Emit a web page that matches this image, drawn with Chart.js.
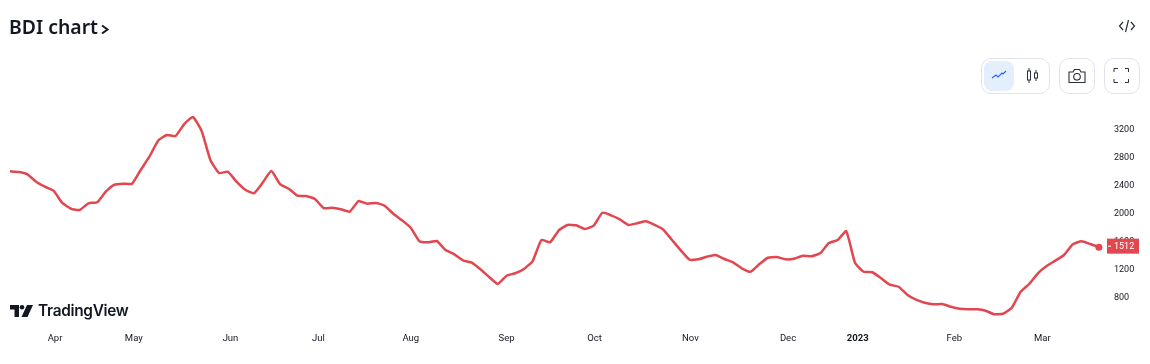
<!DOCTYPE html>
<html>
<head>
<meta charset="utf-8">
<title>BDI chart</title>
<script src="https://cdn.jsdelivr.net/npm/chart.js@4"></script>
<style>
  html, body { margin: 0; padding: 0; background: #fff; }
  #wrap { position: relative; width: 1150px; height: 364px; overflow: hidden; }
  #bdi { position: absolute; left: 0; top: 0; }
  .title { position: absolute; left: 9px; top: 13px; font: 600 19.4px "Noto Sans", sans-serif; color: #131722; line-height: 28px; }
  .brand { position: absolute; left: 38px; top: 300px; font: 600 15.4px Inter, sans-serif; color: #131722; line-height: 21px; letter-spacing: -0.3px; }
  .box { position: absolute; top: 58px; height: 34px; border: 1px solid #e0e3eb; border-radius: 10px; }
  .active { position: absolute; left: 984px; top: 61px; width: 30px; height: 30px; background: #e3effd; border-radius: 8px; }
  svg { position: absolute; }
</style>
</head>
<body>
<div id="wrap">
  <canvas id="bdi" width="1150" height="364"></canvas>

  <div class="title">BDI chart</div>
  <svg style="left:100px;top:23px" width="10" height="12" viewBox="0 0 10 12"><path d="M2 2.5 L7.5 6.5 L2 10.5" fill="none" stroke="#131722" stroke-width="2"/></svg>
  <svg style="left:1118px;top:18px" width="18" height="16" viewBox="0 0 18 16" fill="none" stroke="#2a2e39" stroke-width="1.2"><path d="M5 4 L1.5 8 L5 12 M13 4 L16.5 8 L13 12 M10.5 2 L7.5 14"/></svg>

  <div class="box" style="left:981px;width:67px"></div>
  <div class="active"></div>
  <svg style="left:991px;top:69px" width="16" height="11" viewBox="0 0 16 11" fill="none" stroke="#2962ff" stroke-width="1.1"><path d="M1 9 L5 6 L7 8 L11 4 L12 5 L15 2"/></svg>
  <svg style="left:1026px;top:67px" width="13" height="17" viewBox="0 0 13 17" fill="none" stroke="#2a2e39" stroke-width="1"><rect x="1.5" y="4" width="3" height="9"/><path d="M3 1 V4 M3 13 V16"/><rect x="8.5" y="6" width="3" height="5"/><path d="M10 3 V6 M10 11 V14"/></svg>

  <div class="box" style="left:1059px;width:34px"></div>
  <svg style="left:1068px;top:68px" width="18" height="16" viewBox="0 0 18 16" fill="none" stroke="#2a2e39" stroke-width="1.1"><path d="M1 4 H5 L6.5 1.5 H11.5 L13 4 H17 V14.5 H1 Z"/><circle cx="9" cy="8.8" r="3.3"/></svg>

  <div class="box" style="left:1104px;width:34px"></div>
  <svg style="left:1113px;top:67px" width="17" height="17" viewBox="0 0 17 17" fill="none" stroke="#2a2e39" stroke-width="1"><path d="M1 5 V1.5 H5 M12 1.5 H15.5 V5 M15.5 12 V15.5 H12 M5 15.5 H1 V12"/></svg>

  <svg style="left:10px;top:305px" width="23" height="12" viewBox="0 0 23 12" fill="#131722"><path d="M0 0 H9 V12 H4.5 V4.5 H0 Z"/><circle cx="12" cy="2.3" r="2.3"/><path d="M17 0 H23 L17.5 12 H11.5 Z"/></svg>
  <div class="brand">TradingView</div>
</div>

<script>
// Baltic Dry readings, one sample every two sessions, Mar 2022 - Mar 2023
const bdi = [
  2596, 2586, 2553, 2447, 2376, 2319, 2143, 2061, 2043, 2139, 2153, 2304, 2404, 2419, 2419, 2614,
  2804, 3033, 3114, 3100, 3271, 3371, 3171, 2757, 2571, 2590, 2447, 2333, 2281, 2433, 2600, 2414,
  2347, 2247, 2243, 2200, 2071, 2076, 2053, 2019, 2171, 2133, 2143, 2104, 1990, 1896, 1790, 1596,
  1581, 1600, 1471, 1410, 1324, 1290, 1196, 1086, 986, 1104, 1139, 1200, 1314, 1614, 1581, 1753,
  1829, 1824, 1771, 1819, 2004, 1967, 1910, 1829, 1853, 1881, 1829, 1761, 1614, 1467, 1333, 1339,
  1376, 1400, 1343, 1296, 1210, 1161, 1267, 1361, 1371, 1339, 1347, 1390, 1381, 1424, 1571, 1614,
  1740, 1290, 1161, 1153, 1067, 976, 947, 833, 761, 719, 696, 700, 661, 633, 624, 624,
  604, 553, 561, 647, 871, 986, 1139, 1243, 1319, 1400, 1553, 1596, 1557, 1512
]

const monthLabels = ['Apr', 'May', 'Jun', 'Jul', 'Aug', 'Sep', 'Oct', 'Nov', 'Dec', '2023', 'Feb', 'Mar']
// sample number each month label sits on
const monthAt = [5.17, 14.21, 25.31, 35.41, 46.01, 57.01, 67.11, 78.11, 89.31, 97.31, 108.41, 118.51]
const priceTicks = [800, 1200, 1600, 2000, 2400, 2800, 3200]

const lineColor = '#e2474f'
const lastValue = bdi[bdi.length - 1]

const lastPriceTag = {
    id: 'lastPriceTag',
    afterDraw(chart) {
        const ctx = chart.ctx
        const y = chart.scales.y.getPixelForValue(lastValue) - 1
        ctx.save()
        ctx.fillStyle = lineColor
        ctx.fillRect(1107, y - 7.5, 32, 15)
        ctx.fillStyle = '#fff'
        ctx.fillRect(1108, y - 0.5, 3, 1)
        ctx.font = '9px Roboto, sans-serif'
        ctx.textBaseline = 'middle'
        ctx.textAlign = 'left'
        ctx.fillText(String(lastValue), 1114, y + 0.5)
        ctx.restore()
    }
}

new Chart(document.getElementById('bdi'), {
    type: 'line',
    data: {
        datasets: [{
            label: 'BDI',
            data: bdi.map((v, i) => ({ x: i, y: v })),
            borderColor: lineColor,
            backgroundColor: lineColor,
            borderWidth: 2.5,
            tension: 0.15,
            pointRadius: (c) => c.dataIndex === bdi.length - 1 ? 3.5 : 0,
            pointBorderWidth: 0,
            pointBackgroundColor: lineColor
        }]
    },
    options: {
        responsive: false,
        animation: false,
        layout: { padding: { top: 59 } },
        plugins: { legend: { display: false }, tooltip: { enabled: false } },
        scales: {
            x: {
                type: 'linear',
                min: -0.69,
                max: 125.93,
                grid: { display: false, drawTicks: false },
                border: { display: false },
                afterBuildTicks(scale) {
                    scale.ticks = monthAt.map(v => ({ value: v }))
                },
                afterFit(scale) {
                    scale.height = 39
                },
                ticks: {
                    autoSkip: false,
                    maxRotation: 0,
                    padding: 8,
                    color: '#131722',
                    font: (c) => ({ family: 'Roboto, sans-serif', size: 9.5, weight: c.index === 9 ? 'bold' : 'normal' }),
                    callback: (value, index) => monthLabels[index]
                }
            },
            y: {
                position: 'right',
                min: 400,
                max: 4200,
                grid: { display: false, drawTicks: false },
                border: { display: false },
                afterBuildTicks(scale) {
                    scale.ticks = priceTicks.map(v => ({ value: v }))
                },
                afterFit(scale) {
                    scale.width = 43
                },
                ticks: {
                    padding: 7,
                    labelOffset: 1,
                    color: '#131722',
                    font: { family: 'Roboto, sans-serif', size: 9 },
                    callback: (value) => String(value)
                }
            }
        }
    },
    plugins: [lastPriceTag]
})
</script>
</body>
</html>
